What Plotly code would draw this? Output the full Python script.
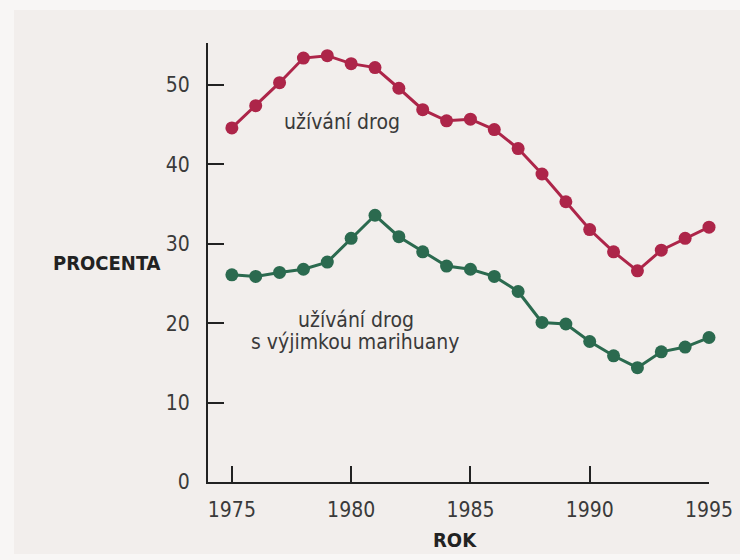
import plotly.graph_objects as go

years = list(range(1975, 1996))

# share of respondents using any drug (%)
drug_use = [44.6, 47.4, 50.3, 53.4, 53.7, 52.7, 52.2, 49.6, 46.9, 45.5,
            45.7, 44.4, 42.0, 38.8, 35.3, 31.8, 29.0, 26.6, 29.2, 30.7, 32.1]

# share using drugs other than marijuana (%)
drug_use_no_mj = [26.1, 25.9, 26.4, 26.8, 27.7, 30.7, 33.6, 30.9, 29.0, 27.2,
                  26.8, 25.9, 24.0, 20.1, 19.9, 17.7, 15.9, 14.4, 16.4, 17.0, 18.2]

x_ticks = [1975, 1980, 1985, 1990, 1995]
y_ticks = [0, 10, 20, 30, 40, 50]

RED = "#ad2549"
GREEN = "#2b6a4f"
INK = "#222222"
TEXT = "#3a3a3a"
FONT = "Liberation Sans Narrow, DejaVu Sans Condensed, Arial Narrow, sans-serif"

fig = go.Figure()
fig.add_trace(go.Scatter(
    x=years, y=drug_use, mode="lines+markers",
    line=dict(color=RED, width=3),
    marker=dict(color=RED, size=13),
    showlegend=False, cliponaxis=False,
))
fig.add_trace(go.Scatter(
    x=years, y=drug_use_no_mj, mode="lines+markers",
    line=dict(color=GREEN, width=3),
    marker=dict(color=GREEN, size=13),
    showlegend=False, cliponaxis=False,
))

axis_common = dict(
    showline=True, linecolor=INK, linewidth=2,
    ticks="inside", ticklen=16, tickwidth=2, tickcolor=INK,
    showgrid=False, zeroline=False, automargin=False,
    tickfont=dict(family=FONT, size=21, color=TEXT),
)

fig.update_xaxes(range=[1974, 1995], tickvals=x_ticks, ticklabelstandoff=8, **axis_common)
fig.update_yaxes(range=[0, 55.3], tickvals=y_ticks, ticklabelstandoff=12, **axis_common)

label_font = dict(family=FONT, size=21, color=TEXT)
title_font = dict(family=FONT, size=20, color=INK)

W, H = 740, 560
ML, MR, MT, MB = 208, 31, 43, 78
PW, PH = W - ML - MR, H - MT - MB


def px_x(px):
    return (px - ML) / PW


def px_y(py):
    return (H - MB - py) / PH


annotations = [
    dict(text="užívání drog", x=1979.6, y=45.3, xref="x", yref="y",
         xanchor="center", yanchor="middle", showarrow=False, font=label_font),
    dict(text="užívání drog", x=1980.2, y=20.4, xref="x", yref="y",
         xanchor="center", yanchor="middle", showarrow=False, font=label_font),
    dict(text="s výjimkou marihuany", x=1980.2, y=17.6, xref="x", yref="y",
         xanchor="center", yanchor="middle", showarrow=False, font=label_font),
    dict(text="<b>PROCENTA</b>", x=px_x(107), y=px_y(263), xref="paper", yref="paper",
         xanchor="center", yanchor="middle", showarrow=False, font=title_font),
    dict(text="<b>ROK</b>", x=px_x(455), y=px_y(540), xref="paper", yref="paper",
         xanchor="center", yanchor="middle", showarrow=False, font=title_font),
]

fig.update_layout(
    width=W, height=H,
    margin=dict(l=ML, r=MR, t=MT, b=MB, pad=0),
    paper_bgcolor="#f8f6f5",
    plot_bgcolor="rgba(0,0,0,0)",
    annotations=annotations,
    shapes=[dict(type="rect", xref="paper", yref="paper",
                 x0=px_x(14), x1=px_x(W), y0=px_y(H - 6), y1=px_y(10),
                 fillcolor="#f2eeec", line=dict(width=0), layer="below")],
)

fig.write_html("out.html")
